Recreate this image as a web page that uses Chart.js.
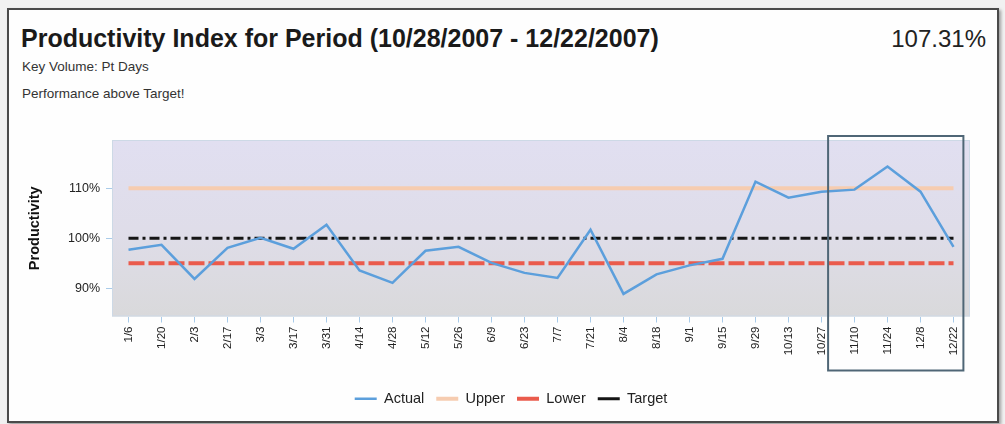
<!DOCTYPE html>
<html>
<head>
<meta charset="utf-8">
<script src="https://cdn.jsdelivr.net/npm/chart.js@4.4.1/dist/chart.umd.min.js"></script>
<style>
  html, body { margin:0; padding:0; background:#f1f1f1; width:1005px; height:424px; overflow:hidden; font-family:"Liberation Sans", Arial, sans-serif; }
  #frame { position:absolute; left:7px; top:8px; width:988px; height:411px; background:#fefefe; border:2px solid #4a4a4a; box-shadow:2px 2px 3px rgba(0,0,0,0.35); }
  #wrap { position:absolute; left:0; top:0; width:1005px; height:424px; }
  .txt { position:absolute; color:#1a1a1a; white-space:nowrap; }
  #title { left:21px; top:24px; font-size:25px; font-weight:bold; }
  #pct { right:19px; top:25px; font-size:24px; color:#222; }
  #kv { left:22px; top:59px; font-size:13.5px; color:#333; }
  #perf { left:22px; top:86px; font-size:13.5px; color:#333; }
</style>
</head>
<body>
<div id="frame"></div>
<div class="txt" id="title">Productivity Index for Period (10/28/2007 - 12/22/2007)</div>
<div class="txt" id="pct">107.31%</div>
<div class="txt" id="kv">Key Volume: Pt Days</div>
<div class="txt" id="perf">Performance above Target!</div>
<div id="wrap"><canvas id="c" width="1005" height="424"></canvas></div>
<script>
const categories = ['1/6','1/20','2/3','2/17','3/3','3/17','3/31','4/14','4/28','5/12','5/26','6/9','6/23','7/7','7/21','8/4','8/18','9/1','9/15','9/29','10/13','10/27','11/10','11/24','12/8','12/22'];
const actual = [97.7,98.7,91.9,98.1,100.1,97.9,102.7,93.6,91.1,97.5,98.3,95.1,93.1,92.1,101.7,88.9,92.8,94.6,95.9,111.3,108.1,109.3,109.7,114.3,109.3,98.3];
const upper  = [110,110,110,110,110,110,110,110,110,110,110,110,110,110,110,110,110,110,110,110,110,110,110,110,110,110];
const lower  = [95,95,95,95,95,95,95,95,95,95,95,95,95,95,95,95,95,95,95,95,95,95,95,95,95,95];
const target = [100,100,100,100,100,100,100,100,100,100,100,100,100,100,100,100,100,100,100,100,100,100,100,100,100,100];
const yTicks = [90,100,110];
const highlightFrom = '10/27';
const highlightTo = '12/22';

const bgPlugin = {
  id:'bgPlugin',
  beforeDatasetsDraw(chart){
    const {ctx, chartArea:a} = chart;
    const g = ctx.createLinearGradient(0,a.top,0,a.bottom);
    g.addColorStop(0,'#e1dff1');
    g.addColorStop(0.5,'#dfdde9');
    g.addColorStop(1,'#d9d9db');
    ctx.save();
    ctx.fillStyle = g;
    ctx.fillRect(a.left,a.top,a.right-a.left,a.bottom-a.top);
    ctx.strokeStyle = '#cdd9e6';
    ctx.lineWidth = 1;
    ctx.strokeRect(a.left+0.5,a.top+0.5,a.right-a.left-1,a.bottom-a.top-1);
    ctx.restore();
  }
};
const boxPlugin = {
  id:'boxPlugin',
  afterDraw(chart){
    const {ctx, chartArea:a, scales:{x}} = chart;
    const i0 = categories.indexOf(highlightFrom), i1 = categories.indexOf(highlightTo);
    const band = x.getPixelForValue(1) - x.getPixelForValue(0);
    const left = x.getPixelForValue(i0) + band*0.2;
    const right = x.getPixelForValue(i1) + band*0.3;
    const top = a.top - 4;
    const bottom = x.bottom - 9;
    ctx.save();
    ctx.strokeStyle = '#4f6676';
    ctx.lineWidth = 2;
    ctx.strokeRect(left, top, right-left, bottom-top);
    ctx.restore();
  }
};
const legendShift = {
  id:'legendShift',
  afterLayout(chart){
    const l = chart.legend;
    if (l) { l.left += 15; l.right += 15; }
  }
};

new Chart(document.getElementById('c'), {
  type:'line',
  data:{
    labels:categories,
    datasets:[
      {label:'Actual', data:actual, borderColor:'#5c9fdc', borderWidth:2.5, pointRadius:0, tension:0},
      {label:'Upper', data:upper, borderColor:'#f6ccb0', borderWidth:4, pointRadius:0},
      {label:'Lower', data:lower, borderColor:'#ea5b4c', borderWidth:4, borderDash:[16,4], pointRadius:0},
      {label:'Target', data:target, borderColor:'#151515', borderWidth:3, borderDash:[10,4,3,4], pointRadius:0}
    ]
  },
  options:{
    responsive:false,
    animation:false,
    layout:{padding:{left:22, right:35, top:140, bottom:8}},
    scales:{
      x:{
        offset:true,
        grid:{drawOnChartArea:false, drawTicks:true, tickLength:6, color:'#a9cbe9', offset:false},
        border:{display:false},
        ticks:{minRotation:90, maxRotation:90, autoSkip:false, color:'#222', font:{family:'Liberation Sans', size:11.5}, padding:4},
        afterFit(s){ s.height = 63; }
      },
      y:{
        min:84.4, max:119.6,
        grid:{drawOnChartArea:false, drawTicks:true, tickLength:6, color:'#a9cbe9'},
        border:{display:false},
        ticks:{color:'#222', font:{family:'Liberation Sans', size:12.5}, padding:6, callback:v=>v+'%'},
        afterBuildTicks(s){ s.ticks = yTicks.map(v=>({value:v})); },
        title:{display:true, text:'Productivity', color:'#111', font:{family:'Liberation Sans', size:14.5, weight:'bold'}, padding:{top:4,bottom:6}},
        afterFit(s){ s.width = 90; }
      }
    },
    plugins:{
      legend:{
        position:'bottom',
        labels:{usePointStyle:true, pointStyle:'line', pointStyleWidth:22, boxHeight:10, padding:12, color:'#222', font:{family:'Liberation Sans', size:14.5}}
      },
      tooltip:{enabled:false}
    }
  },
  plugins:[bgPlugin, boxPlugin, legendShift]
});
</script>
</body>
</html>
